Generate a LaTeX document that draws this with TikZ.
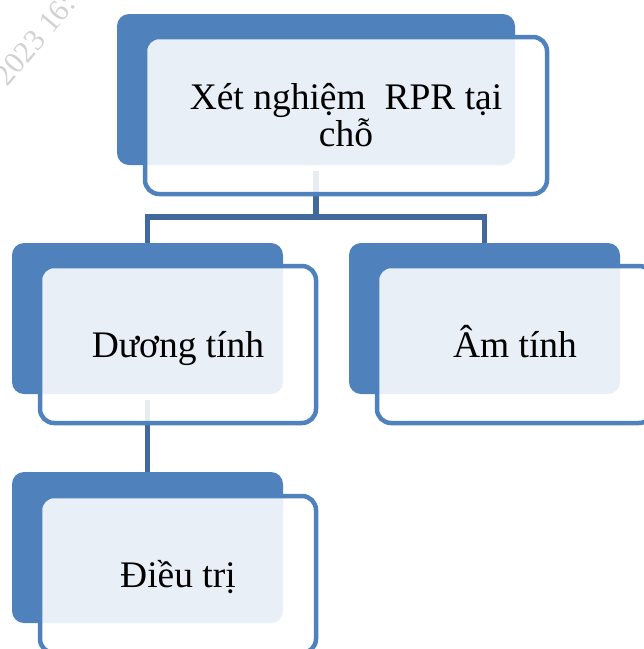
\documentclass[tikz,border=0pt]{standalone}
\usepackage{fontspec}
\setmainfont{Liberation Serif}
\usepackage{xcolor}
\usepackage{tikz}
\definecolor{blue2}{HTML}{4F81BD}
\definecolor{blue3}{HTML}{41699C}
\definecolor{grey2}{HTML}{D2D2D2}

\begin{document}
\begin{tikzpicture}[
      x=1pt, y=-1pt,
      tab/.style={fill=blue2, rounded corners=12pt, inner sep=0pt, minimum height=151pt},
      card/.style={draw=blue2, line width=4.5pt, fill=white, fill opacity=0.88, text opacity=1,
        rounded corners=14pt, inner sep=0pt, minimum height=157pt, align=center,
        font=\fontsize{37.5}{37}\selectfont, text height=25pt, text depth=0pt},
      link/.style={draw=blue3, line width=5.5pt},
      wmark/.style={text=grey2, font=\fontsize{30.5}{30.5}\selectfont, inner sep=0pt}
  ]
    \useasboundingbox (0,0) rectangle (644,649);
    \clip (0,0) rectangle (644,649);
    \node[wmark, anchor=base west, rotate=50] (stamp) at (7.8,87.7) {2023 16:};
    % back tabs
    \node[tab, minimum width=398pt] (toptab) at (316,89.5) {};
    \node[tab, minimum width=271pt] (postab) at (147.5,318.5) {};
    \node[tab, minimum width=271pt] (negtab) at (484.5,318.5) {};
    \node[tab, minimum width=271pt] (treattab) at (147.5,547.5) {};
    % connectors
    \coordinate (fork) at (316,217);
    \draw[link] ([yshift=-6pt]toptab.south) -- (fork);
    \draw[link] (postab.north) |- (fork) -| (negtab.north);
    \draw[link] ([yshift=-6pt]postab.south) -- (treattab.north);
    % cards
    \node[card, minimum width=402pt, text height=62pt] (top) at (346,115.5) {Xét nghiệm~ RPR tại\\chỗ};
    \node[card, minimum width=276pt] (pos) at (178,344.5) {Dương tính};
    \node[card, minimum width=276pt] (neg) at (515,344.5) {Âm tính};
    \node[card, minimum width=276pt] (treat) at (178,574.5) {Điều trị};
  \end{tikzpicture}
\end{document}
